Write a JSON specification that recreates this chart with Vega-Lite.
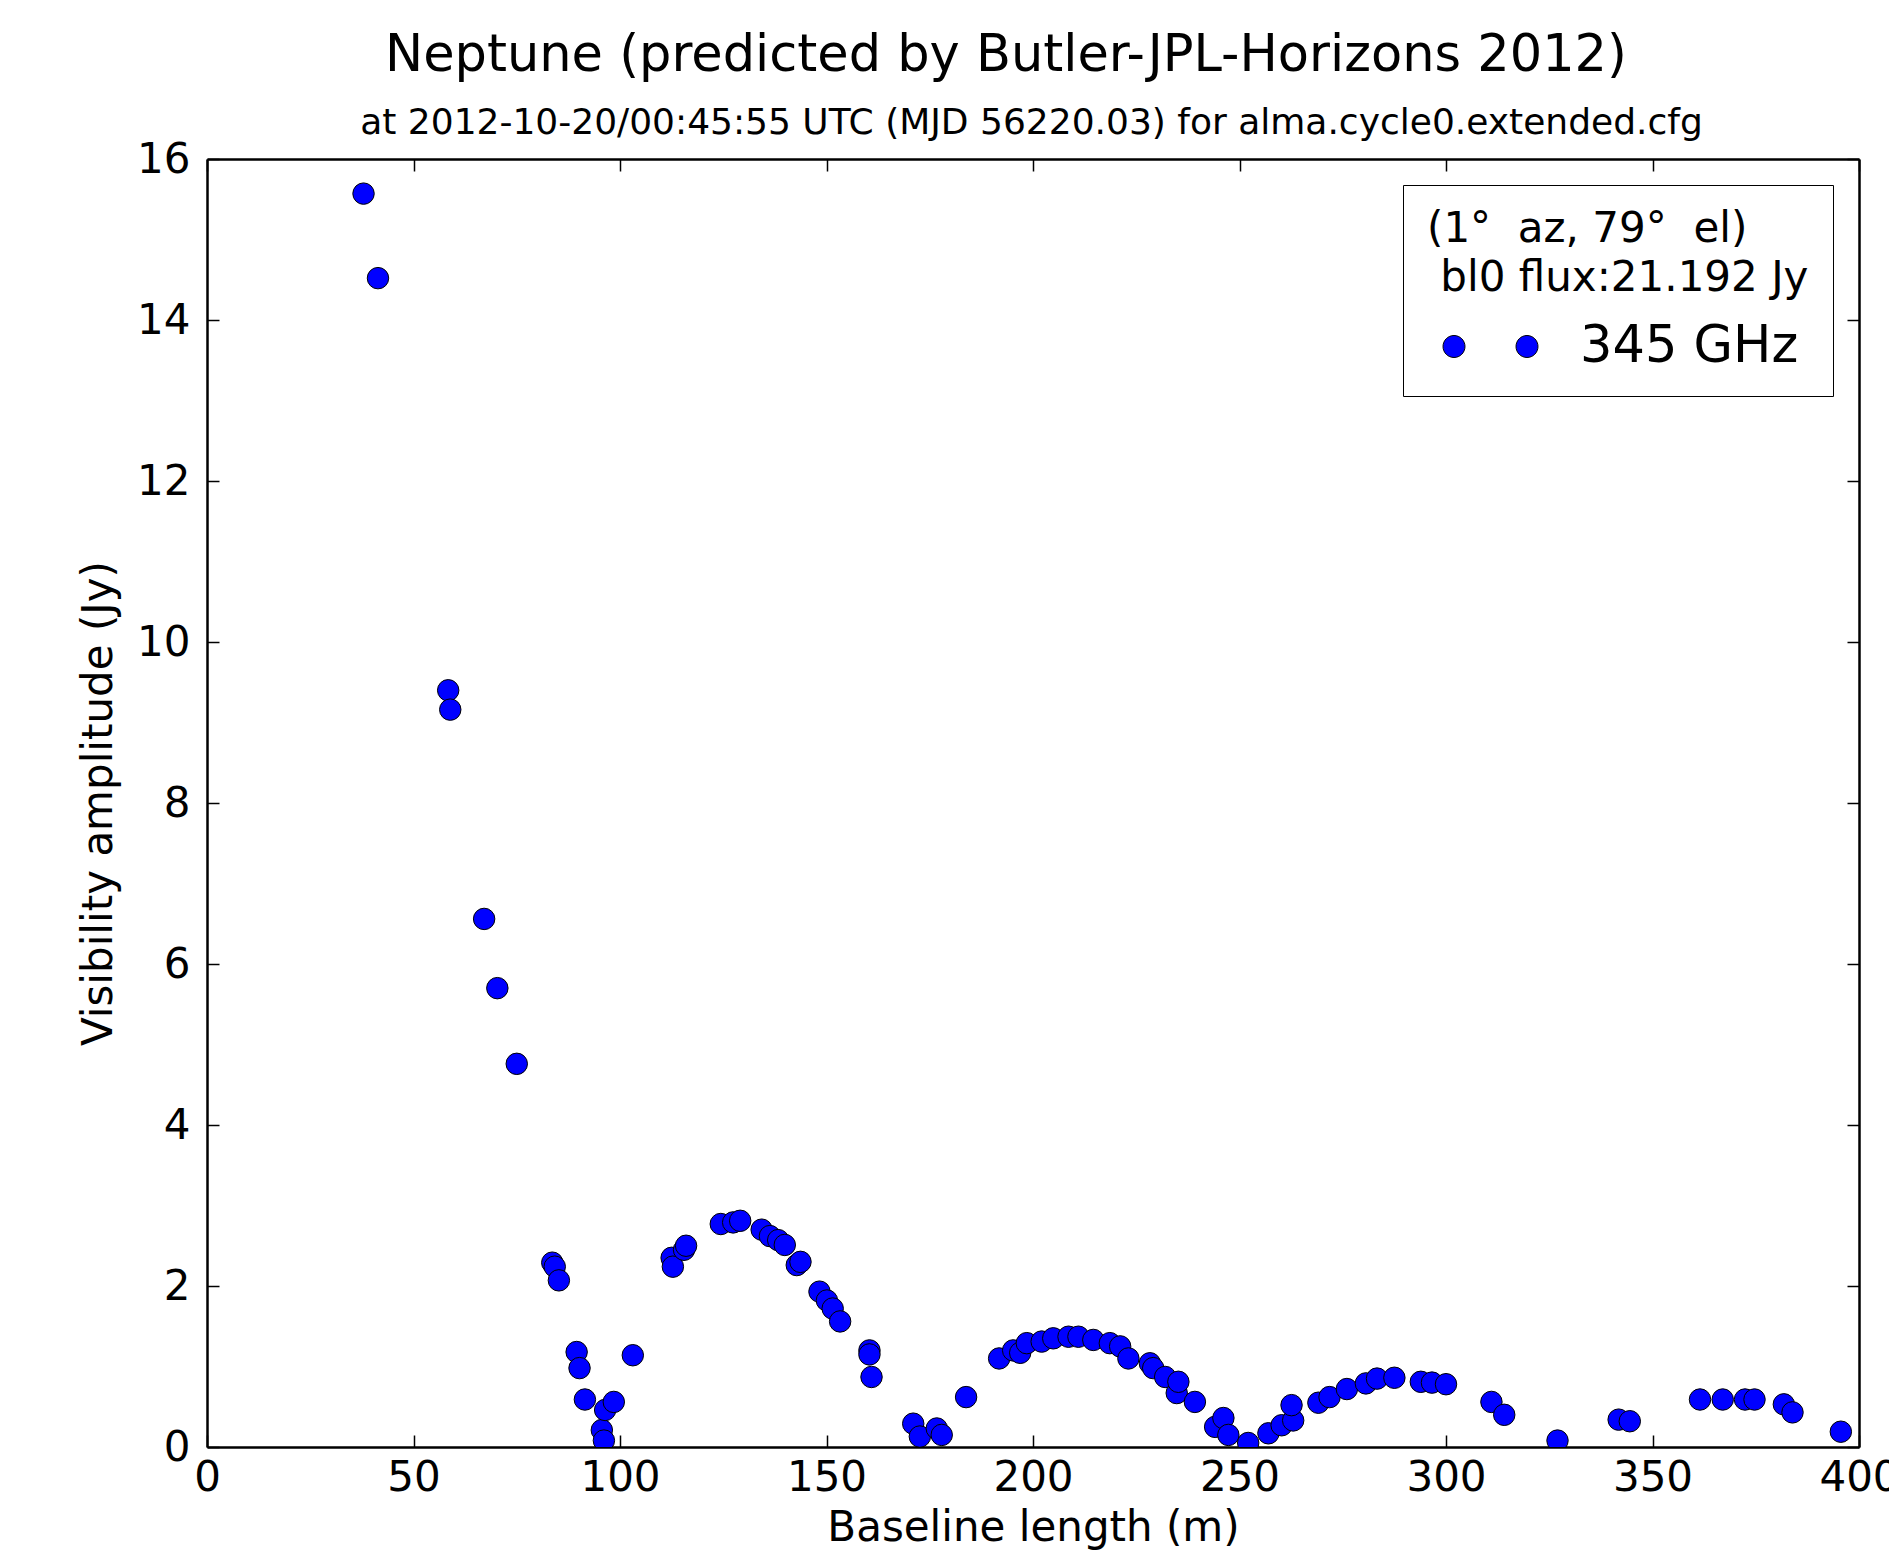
{
  "$schema": "https://vega.github.io/schema/vega-lite/v6.json",
  "width": 1652,
  "height": 1288,
  "autosize": {"type": "none"},
  "padding": {"left": 207, "top": 159, "right": 30, "bottom": 115},
  "background": "white",
  "title": {
    "text": "Neptune (predicted by Butler-JPL-Horizons 2012)",
    "anchor": "middle",
    "dx": -27,
    "baseline": "alphabetic",
    "font": "DejaVu Sans",
    "fontSize": 51,
    "fontWeight": "normal",
    "color": "black",
    "offset": -18
  },
  "data": {
    "values": [
      {"b": 37.9, "amp": 15.57, "band": "345 GHz"},
      {"b": 41.4, "amp": 14.52, "band": "345 GHz"},
      {"b": 58.4, "amp": 9.40, "band": "345 GHz"},
      {"b": 58.9, "amp": 9.16, "band": "345 GHz"},
      {"b": 67.1, "amp": 6.56, "band": "345 GHz"},
      {"b": 70.3, "amp": 5.70, "band": "345 GHz"},
      {"b": 75.0, "amp": 4.76, "band": "345 GHz"},
      {"b": 83.6, "amp": 2.29, "band": "345 GHz"},
      {"b": 84.2, "amp": 2.24, "band": "345 GHz"},
      {"b": 85.2, "amp": 2.07, "band": "345 GHz"},
      {"b": 89.5, "amp": 1.18, "band": "345 GHz"},
      {"b": 90.2, "amp": 0.98, "band": "345 GHz"},
      {"b": 91.5, "amp": 0.59, "band": "345 GHz"},
      {"b": 95.6, "amp": 0.21, "band": "345 GHz"},
      {"b": 96.1, "amp": 0.08, "band": "345 GHz"},
      {"b": 96.4, "amp": 0.46, "band": "345 GHz"},
      {"b": 98.5, "amp": 0.56, "band": "345 GHz"},
      {"b": 103.1, "amp": 1.14, "band": "345 GHz"},
      {"b": 112.5, "amp": 2.35, "band": "345 GHz"},
      {"b": 112.8, "amp": 2.24, "band": "345 GHz"},
      {"b": 115.5, "amp": 2.45, "band": "345 GHz"},
      {"b": 116.0, "amp": 2.50, "band": "345 GHz"},
      {"b": 124.4, "amp": 2.77, "band": "345 GHz"},
      {"b": 127.4, "amp": 2.79, "band": "345 GHz"},
      {"b": 129.1, "amp": 2.81, "band": "345 GHz"},
      {"b": 134.3, "amp": 2.70, "band": "345 GHz"},
      {"b": 136.3, "amp": 2.62, "band": "345 GHz"},
      {"b": 138.3, "amp": 2.57, "band": "345 GHz"},
      {"b": 139.9, "amp": 2.51, "band": "345 GHz"},
      {"b": 142.8, "amp": 2.26, "band": "345 GHz"},
      {"b": 143.7, "amp": 2.30, "band": "345 GHz"},
      {"b": 148.3, "amp": 1.93, "band": "345 GHz"},
      {"b": 150.1, "amp": 1.82, "band": "345 GHz"},
      {"b": 151.5, "amp": 1.72, "band": "345 GHz"},
      {"b": 153.3, "amp": 1.56, "band": "345 GHz"},
      {"b": 160.4, "amp": 1.20, "band": "345 GHz"},
      {"b": 160.4, "amp": 1.15, "band": "345 GHz"},
      {"b": 160.9, "amp": 0.87, "band": "345 GHz"},
      {"b": 171.0, "amp": 0.29, "band": "345 GHz"},
      {"b": 172.6, "amp": 0.13, "band": "345 GHz"},
      {"b": 176.7, "amp": 0.23, "band": "345 GHz"},
      {"b": 177.9, "amp": 0.15, "band": "345 GHz"},
      {"b": 183.8, "amp": 0.62, "band": "345 GHz"},
      {"b": 191.8, "amp": 1.10, "band": "345 GHz"},
      {"b": 195.2, "amp": 1.20, "band": "345 GHz"},
      {"b": 196.9, "amp": 1.17, "band": "345 GHz"},
      {"b": 198.5, "amp": 1.29, "band": "345 GHz"},
      {"b": 202.1, "amp": 1.31, "band": "345 GHz"},
      {"b": 204.9, "amp": 1.35, "band": "345 GHz"},
      {"b": 208.6, "amp": 1.37, "band": "345 GHz"},
      {"b": 211.0, "amp": 1.37, "band": "345 GHz"},
      {"b": 214.6, "amp": 1.33, "band": "345 GHz"},
      {"b": 218.6, "amp": 1.29, "band": "345 GHz"},
      {"b": 221.1, "amp": 1.25, "band": "345 GHz"},
      {"b": 223.1, "amp": 1.10, "band": "345 GHz"},
      {"b": 228.3, "amp": 1.04, "band": "345 GHz"},
      {"b": 229.1, "amp": 0.98, "band": "345 GHz"},
      {"b": 232.0, "amp": 0.87, "band": "345 GHz"},
      {"b": 234.8, "amp": 0.67, "band": "345 GHz"},
      {"b": 235.2, "amp": 0.81, "band": "345 GHz"},
      {"b": 239.2, "amp": 0.56, "band": "345 GHz"},
      {"b": 244.1, "amp": 0.25, "band": "345 GHz"},
      {"b": 246.1, "amp": 0.36, "band": "345 GHz"},
      {"b": 247.3, "amp": 0.15, "band": "345 GHz"},
      {"b": 252.1, "amp": 0.05, "band": "345 GHz"},
      {"b": 257.0, "amp": 0.17, "band": "345 GHz"},
      {"b": 260.2, "amp": 0.27, "band": "345 GHz"},
      {"b": 263.0, "amp": 0.33, "band": "345 GHz"},
      {"b": 262.6, "amp": 0.52, "band": "345 GHz"},
      {"b": 269.1, "amp": 0.55, "band": "345 GHz"},
      {"b": 271.8, "amp": 0.62, "band": "345 GHz"},
      {"b": 276.0, "amp": 0.72, "band": "345 GHz"},
      {"b": 280.6, "amp": 0.79, "band": "345 GHz"},
      {"b": 283.3, "amp": 0.85, "band": "345 GHz"},
      {"b": 287.5, "amp": 0.86, "band": "345 GHz"},
      {"b": 293.9, "amp": 0.81, "band": "345 GHz"},
      {"b": 296.6, "amp": 0.80, "band": "345 GHz"},
      {"b": 300.0, "amp": 0.78, "band": "345 GHz"},
      {"b": 311.0, "amp": 0.56, "band": "345 GHz"},
      {"b": 314.1, "amp": 0.40, "band": "345 GHz"},
      {"b": 327.0, "amp": 0.08, "band": "345 GHz"},
      {"b": 341.8, "amp": 0.34, "band": "345 GHz"},
      {"b": 344.5, "amp": 0.32, "band": "345 GHz"},
      {"b": 361.5, "amp": 0.59, "band": "345 GHz"},
      {"b": 367.0, "amp": 0.59, "band": "345 GHz"},
      {"b": 372.4, "amp": 0.59, "band": "345 GHz"},
      {"b": 374.7, "amp": 0.59, "band": "345 GHz"},
      {"b": 381.8, "amp": 0.53, "band": "345 GHz"},
      {"b": 383.9, "amp": 0.43, "band": "345 GHz"},
      {"b": 395.6, "amp": 0.19, "band": "345 GHz"}
    ]
  },
  "layer": [
    {
      "mark": {"type": "point", "shape": "circle", "filled": true, "size": 460, "stroke": "black", "strokeWidth": 1, "opacity": 1, "clip": true},
      "encoding": {
        "x": {
          "field": "b", "type": "quantitative",
          "scale": {"domain": [0, 400], "nice": false, "zero": false},
          "axis": {
            "orient": "bottom",
            "title": "Baseline length (m)",
            "values": [0, 50, 100, 150, 200, 250, 300, 350, 400],
            "titlePadding": 9
          }
        },
        "y": {
          "field": "amp", "type": "quantitative",
          "scale": {"domain": [0, 16], "nice": false, "zero": false},
          "axis": {
            "orient": "left",
            "title": "Visibility amplitude (Jy)",
            "values": [0, 2, 4, 6, 8, 10, 12, 14, 16],
            "titleX": -96, "titleY": 644, "titleBaseline": "alphabetic", "titleAngle": -90, "titleAlign": "center", "titleAnchor": "middle"
          }
        },
        "color": {
          "field": "band", "type": "nominal",
          "scale": {"domain": ["345 GHz"], "range": ["#0000ff"]},
          "legend": {
            "title": ["(1°\u00a0 az, 79°\u00a0 el)", "\u200b\u00a0bl0 flux:21.192 Jy"],
            "orient": "top-right",
            "offset": 26,
            "padding": 24,
            "strokeColor": "black",
            "fillColor": "white",
            "titleFont": "DejaVu Sans",
            "titleFontSize": 42,
            "titleFontWeight": "normal",
            "titleColor": "black",
            "titleLineHeight": 49,
            "titlePadding": 21,
            "titleLimit": 800,
            "labelFont": "DejaVu Sans",
            "labelFontSize": 51,
            "labelColor": "black",
            "labelOffset": 64,
            "labelLimit": 800,
            "symbolType": "M-1.7,0A0.733,0.733,0,1,1,-3.166,0A0.733,0.733,0,1,1,-1.7,0ZM3.166,0A0.733,0.733,0,1,1,1.7,0A0.733,0.733,0,1,1,3.166,0Z",
            "symbolSize": 900,
            "symbolOffset": 38,
            "symbolStrokeColor": "black",
            "symbolStrokeWidth": 1,
            "symbolFillColor": "#0000ff"
          }
        }
      }
    },
    {
      "mark": {"type": "point", "opacity": 0},
      "encoding": {
        "x": {
          "field": "b", "type": "quantitative",
          "axis": {
            "orient": "top",
            "title": "at 2012-10-20/00:45:55 UTC (MJD 56220.03) for alma.cycle0.extended.cfg",
            "titleFontSize": 36,
            "titleX": 824, "titleY": -26, "titleBaseline": "alphabetic", "titleAnchor": "middle", "titleAlign": "center",
            "labels": false,
            "values": [0, 50, 100, 150, 200, 250, 300, 350, 400]
          }
        },
        "y": {
          "field": "amp", "type": "quantitative",
          "axis": {"orient": "right", "title": null, "labels": false, "values": [0, 2, 4, 6, 8, 10, 12, 14, 16]}
        }
      }
    }
  ],
  "resolve": {"axis": {"x": "independent", "y": "independent"}},
  "config": {
    "view": {"stroke": null},
    "font": "DejaVu Sans",
    "axis": {
      "zindex": 1,
      "domain": true,
      "domainColor": "black",
      "domainWidth": 2.5,
      "grid": false,
      "ticks": true,
      "tickSize": -12,
      "tickColor": "black",
      "tickWidth": 1.5,
      "labelFont": "DejaVu Sans",
      "labelFontSize": 42,
      "labelColor": "black",
      "labelFlush": false,
      "labelOverlap": false,
      "titleFont": "DejaVu Sans",
      "titleFontSize": 42,
      "titleFontWeight": "normal",
      "titleColor": "black"
    },
    "axisBottom": {"labelPadding": 22.4},
    "axisLeft": {"labelPadding": 29}
  }
}
